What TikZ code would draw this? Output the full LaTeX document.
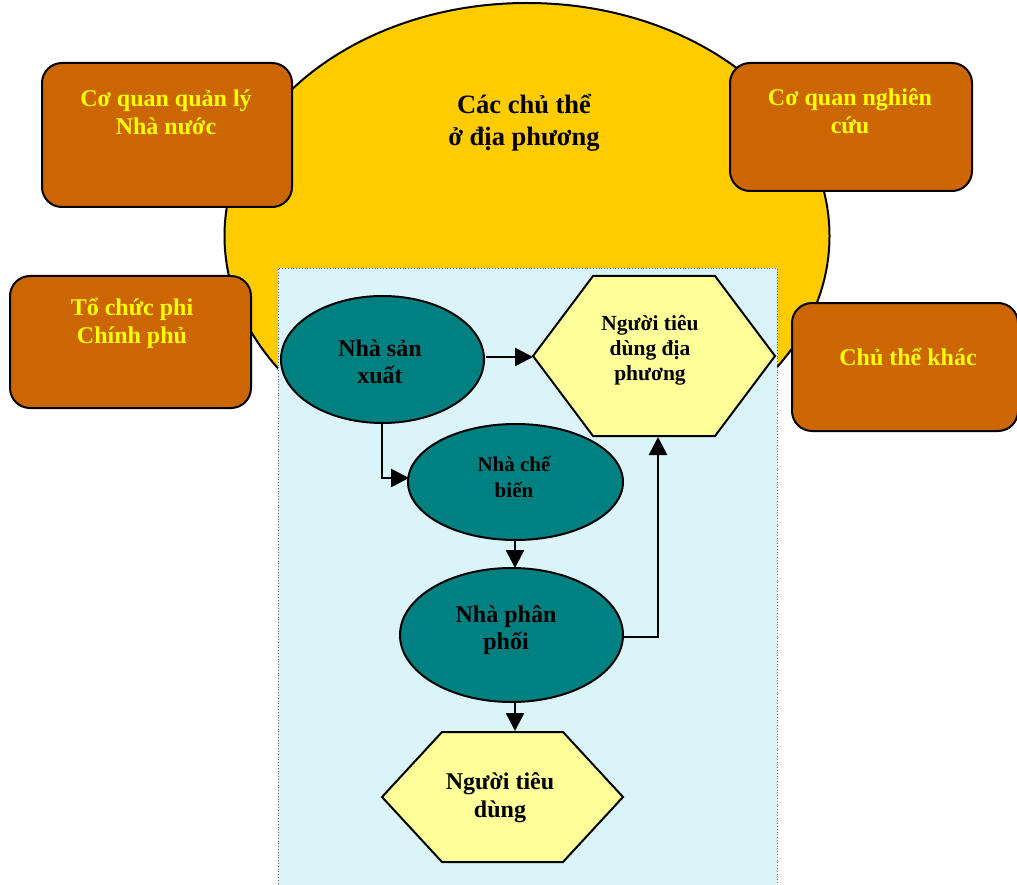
\documentclass[tikz,border=0pt]{standalone}
\usepackage{fontspec}
\setmainfont{Liberation Serif}
\usetikzlibrary{shapes.geometric,arrows.meta}
\definecolor{sunyel}{HTML}{FFCC00}
\definecolor{boxbrown}{HTML}{CC6600}
\definecolor{txtyel}{HTML}{FFFF00}
\definecolor{tealc}{HTML}{008080}
\definecolor{hexyel}{HTML}{FFFF99}
\definecolor{paleblue}{HTML}{DAF4FA}
\tikzset{
  brownbox/.style={draw=black,line width=2pt,fill=boxbrown,rounded corners=20pt},
  browntxt/.style={text=txtyel,font=\fontsize{24}{28}\selectfont\bfseries,align=center,inner sep=0pt},
  tealell/.style={draw=black,line width=2pt,fill=tealc,ellipse,inner sep=0pt},
  darktxt/.style={text=black,align=center,inner sep=0pt},
  hexshape/.style={draw=black,line width=2pt,fill=hexyel,line join=miter},
  arr/.style={line width=2.6pt,-{Triangle[length=18pt,width=18pt]}},
}
\begin{document}
\begin{tikzpicture}[x=1pt,y=-1pt]
\useasboundingbox (0,0) rectangle (1017,885);
% big ellipse
\node[ellipse,draw=black,line width=2pt,fill=sunyel,minimum width=605pt,minimum height=466pt,inner sep=0pt] (sun) at (527,236) {};
\node[darktxt,font=\fontsize{26.5}{32}\selectfont\bfseries] (title) at (524,123) {Các chủ thể\\ở địa phương};
% brown boxes
\node[brownbox,minimum width=250pt,minimum height=144pt] (b1) at (167,135) {};
\node[browntxt] (t1) at (166,112) {Cơ quan quản lý\\Nhà nước};
\node[brownbox,minimum width=242pt,minimum height=128pt] (b2) at (851,127) {};
\node[browntxt] (t2) at (850,111) {Cơ quan nghiên\\cứu};
\node[brownbox,minimum width=241pt,minimum height=132pt] (b3) at (130.5,342) {};
\node[browntxt] (t3) at (132,323) {Tổ chức phi\\Chính phủ};
\node[brownbox,minimum width=226pt,minimum height=128pt] (b4) at (905,367) {};
\node[browntxt] (t4) at (908,357) {Chủ thể khác};
% blue panel
\node[draw=gray!80!black,dotted,line width=0.8pt,fill=paleblue,minimum width=499pt,minimum height=625pt,inner sep=0pt,anchor=north west] (panel) at (278,268) {};
% teal ellipses
\node[tealell,minimum width=203pt,minimum height=127pt] (sx) at (382.5,359.5) {};
\node[darktxt,font=\fontsize{24}{27}\selectfont\bfseries] (sxt) at (380,362) {Nhà sản\\xuất};
\node[tealell,minimum width=215pt,minimum height=116pt] (cb) at (515.5,482) {};
\node[darktxt,font=\fontsize{21}{26}\selectfont\bfseries] (cbt) at (514,477) {Nhà chế\\biến};
\node[tealell,minimum width=223pt,minimum height=134pt] (pp) at (511.5,635) {};
\node[darktxt,font=\fontsize{24}{27}\selectfont\bfseries] (ppt) at (506,630) {Nhà phân\\phối};
% hexagons
\draw[hexshape] (533,356) -- (593,276) -- (715,276) -- (775,356) -- (715,436) -- (593,436) -- cycle;
\coordinate (h1w) at (533,357);
\coordinate (h1s) at (658,437);
\node[darktxt,font=\fontsize{21.5}{25}\selectfont\bfseries] (h1t) at (650,350) {Người tiêu\\dùng địa\\phương};
\draw[hexshape] (382,797) -- (442,732) -- (563,732) -- (623,797) -- (563,862) -- (442,862) -- cycle;
\coordinate (h2n) at (515,731);
\node[darktxt,font=\fontsize{24}{28}\selectfont\bfseries] (h2t) at (500,798) {Người tiêu\\dùng};
% arrows
\coordinate (sxe) at (486,357);
\draw[arr] (sxe) -- (h1w);
\coordinate (sxs) at (382,423);
\coordinate (cbw) at (409,478);
\draw[arr] (sxs) |- (cbw);
\coordinate (cbs) at (515,540);
\coordinate (ppn) at (515,568);
\draw[arr] (cbs) -- (ppn);
\coordinate (ppe) at (622,637);
\draw[arr] (ppe) -| (h1s);
\coordinate (pps) at (515,702);
\draw[arr] (pps) -- (h2n);
\end{tikzpicture}
\end{document}
